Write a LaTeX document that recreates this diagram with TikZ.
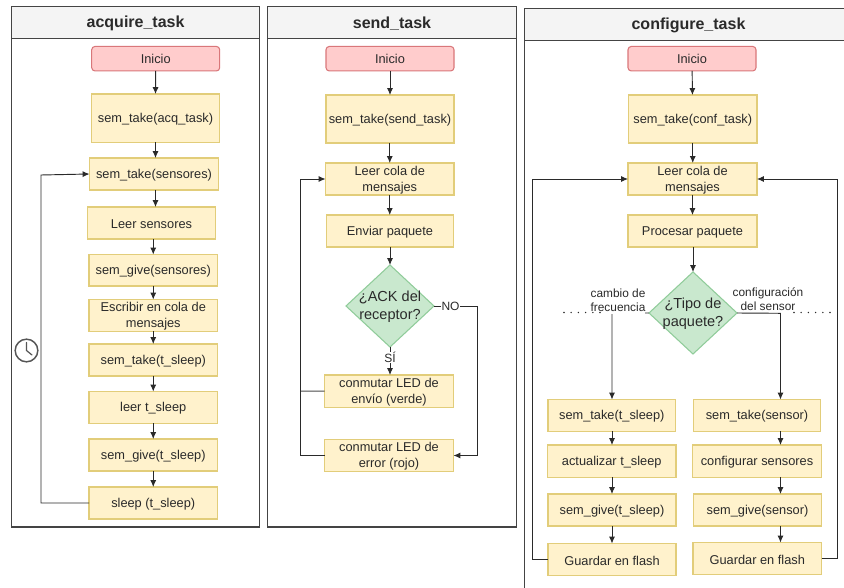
\documentclass[tikz,border=0pt]{standalone}
\usepackage{fontspec}
\setmainfont{Liberation Sans}
\usetikzlibrary{arrows.meta,shapes.geometric,calc}
\definecolor{yfill}{HTML}{FFF2CC}
\definecolor{ydraw}{HTML}{E2CD7A}
\definecolor{rfill}{HTML}{FFCCCC}
\definecolor{rdraw}{HTML}{D9777A}
\definecolor{gfill}{HTML}{C9E8CE}
\definecolor{gdraw}{HTML}{90CC9A}
\definecolor{ink}{HTML}{2A2A2A}
\definecolor{lane}{HTML}{444444}
\definecolor{headfill}{HTML}{F4F4F4}
\tikzset{
  x=0.75pt,y=-0.75pt,
  every node/.style={font=\fontsize{9.6pt}{12pt}\selectfont,text=ink,align=center,inner sep=0pt,outer sep=0pt},
  conn/.style={draw=ink,line width=0.7pt,-{Latex[length=5.2pt,width=4.6pt]}},
  plainline/.style={draw=ink!85,line width=0.75pt},
  lanebox/.style={draw=lane,line width=0.8pt,fill=white},
  lanehead/.style={draw=lane,line width=0.8pt,fill=headfill},
  title/.style={font=\fontsize{12pt}{14pt}\selectfont\bfseries,text=ink},
  small/.style={font=\fontsize{8.9pt}{10.7pt}\selectfont},
  startbox/.style={draw=rdraw,fill=rfill,line width=0.8pt,rounded corners=2.5pt,minimum width=96pt,minimum height=18.4pt},
  decision/.style={diamond,draw=gdraw,fill=gfill,line width=0.8pt,minimum width=66pt,minimum height=61.5pt},
  dectext/.style={font=\fontsize{10.9pt}{13.7pt}\selectfont,yshift=-0.4pt},
  dots/.style={draw=ink,line width=1.15pt,line cap=round,dash pattern=on 0pt off 5.4pt},
  lbl/.style={fill=white,inner xsep=0.5pt,inner ysep=0.5pt,font=\fontsize{9pt}{11pt}\selectfont}
}
% name, x1, y1, x2, y2, text
\newcommand{\bx}[6]{\node[draw=ydraw,fill=yfill,line width=0.8pt,minimum width=(#4-#2)*0.75pt,minimum height=(#5-#3)*0.75pt,label={[yshift=-0.7pt]center:#6}] (#1) at ({(#2+#4)/2},{(#3+#5)/2}) {};}
\begin{document}
\begin{tikzpicture}
\useasboundingbox (0,0) rectangle (844,588);
\fill[white] (0,0) rectangle (844,588);
% panels
\draw[lanebox] (11.5,38.7) rectangle (259.7,527);
\draw[lanehead] (11.5,6.7) rectangle (259.7,38.7);
\node[title] (t1) at (135.6,23.4) {acquire\_task};
\draw[lanebox] (267.7,38.7) rectangle (516.5,527);
\draw[lanehead] (267.7,6.7) rectangle (516.5,38.7);
\node[title] (t2) at (392,23.4) {send\_task};
\draw[lanebox] (524.5,40.5) rectangle (860,600);
\draw[lanehead] (524.5,8.5) rectangle (860,40.5);
\node[title] (t3) at (688.5,25) {configure\_task};
% acquire
\node[startbox] (a0) at (155.7,58.7) {Inicio};
\bx{a1}{91.5}{94}{219.5}{142.5}{sem\_take(acq\_task)}
\bx{a2}{89.5}{158}{218.5}{190}{sem\_take(sensores)}
\bx{a3}{87.5}{207}{215.5}{239}{Leer sensores}
\bx{a4}{89}{254.5}{217.5}{286}{sem\_give(sensores)}
\bx{a5}{89}{299.5}{217.5}{331.5}{Escribir en cola de\\mensajes}
\bx{a6}{89}{344}{217.5}{376}{sem\_take(t\_sleep)}
\bx{a7}{89}{391.5}{217.5}{423.5}{leer t\_sleep}
\bx{a8}{89}{439}{217.5}{471}{sem\_give(t\_sleep)}
\bx{a9}{89}{487}{217.5}{519}{sleep (t\_sleep)}
\draw[conn] (a0.south) -- (a1.north);
\draw[conn] (a1.south) -- (a1.south|-a2.north);
\draw[conn] (a2.south-|a1.south) -- (a1.south|-a3.north);
\draw[conn] (a3.south-|a4.north) -- (a4.north);
\draw[conn] (a4) -- (a5);
\draw[conn] (a5) -- (a6);
\draw[conn] (a6) -- (a7);
\draw[conn] (a7) -- (a8);
\draw[conn] (a8) -- (a9);
\draw[conn] (a9.west) -- (41,503) -- (41,175) -- (a2.west);
% clock
\node[draw=ink!80,line width=1.1pt,circle,minimum size=17pt] (clock) at (26.5,350.5) {};
\draw[ink!80,line width=0.9pt,line cap=round] (26.5,342.5) -- (clock.center) -- (32,355);
% send
\node[startbox] (s0) at (390,58.7) {Inicio};
\bx{s1}{326}{95}{454}{143}{sem\_take(send\_task)}
\bx{s2}{325.5}{163}{454}{195}{Leer cola de\\mensajes}
\bx{s3}{326.5}{215}{453.5}{247}{Enviar paquete}
\node[decision,label={[dectext]center:¿ACK del\\receptor?}] (sd) at (390,306) {};
\bx{s4}{324.5}{375}{453.5}{407.5}{conmutar LED de\\envío (verde)}
\bx{s5}{324.5}{439.5}{453.5}{471.5}{conmutar LED de\\error (rojo)}
\draw[conn] (s0) -- (s1);
\draw[conn] (s1.south-|s2.north) -- (s2.north);
\draw[conn] (s2) -- (s2.south|-s3.north);
\draw[conn] (s3.south-|sd.north) -- (sd.north);
\draw[conn] (sd.south) -- (sd.south|-s4.north);
\node[lbl] (si) at (390,357.5) {SÍ};
\draw[conn] (sd.east) -- (477,306) -- (477,455.5) -- (s5.east);
\node[lbl] (no) at (450.5,306.3) {NO};
\draw[plainline] (s4.west) -- (300,391.2);
\draw[conn] (s5.west) -- (300,455.5) -- (300,179) -- (s2.west);
% configure
\node[startbox] (c0) at (692,58.7) {Inicio};
\bx{c1}{628.5}{95}{757}{143}{sem\_take(conf\_task)}
\bx{c2}{628}{163}{757}{195}{Leer cola de\\mensajes}
\bx{c3}{628}{215}{757}{247}{Procesar paquete}
\node[decision,label={[dectext]center:¿Tipo de\\paquete?}] (cd) at (693,313) {};
\bx{c4}{548}{399.5}{675.5}{431.5}{sem\_take(t\_sleep)}
\bx{c5}{547.5}{445}{676}{477.5}{actualizar t\_sleep}
\bx{c6}{548}{494}{676}{526}{sem\_give(t\_sleep)}
\bx{c7}{548}{543.5}{676}{575.5}{Guardar en flash}
\bx{c8}{693.5}{399.5}{820.5}{431.5}{sem\_take(sensor)}
\bx{c9}{692.5}{445}{821.5}{477.5}{configurar sensores}
\bx{c10}{693.5}{494}{821.5}{526}{sem\_give(sensor)}
\bx{c11}{693}{542.5}{821.5}{574.5}{Guardar en flash}
\draw[conn] (c0) -- (c1);
\draw[conn] (c1) -- (c1|-c2.north);
\draw[conn] (c2.south) -- (c2.south|-c3.north);
\draw[conn] (c3.south-|cd.north) -- (cd.north);
\draw[conn] (cd.west) -- (612,313.3) -- (612,399.5);
\draw[conn] (cd.east) -- (780.5,313.3) -- (780.5,399.5);
\draw[conn] (612,431.5) -- (612,445);
\draw[conn] (612,477.5) -- (612,494);
\draw[conn] (612,526) -- (612,543.5);
\draw[conn] (780.5,431.5) -- (780.5,445);
\draw[conn] (780.5,477.5) -- (780.5,494);
\draw[conn] (780.5,526) -- (780.5,542.5);
\draw[conn] (c7.west) -- (532,559.5) -- (532,179) -- (c2.west);
\draw[conn] (c11.east) -- (837,558.5) -- (837,179) -- (c2.east);
\node[small,fill=white,inner xsep=0pt,inner ysep=1.6pt] (l1) at (618,300) {cambio de\\frecuencia};
\node[small] (l2) at (768,299) {configuración\\del sensor};
\draw[dots] (564,312.5) -- (606,312.5);
\draw[dots] (794,312.5) -- (830,312.5);
\end{tikzpicture}
\end{document}
